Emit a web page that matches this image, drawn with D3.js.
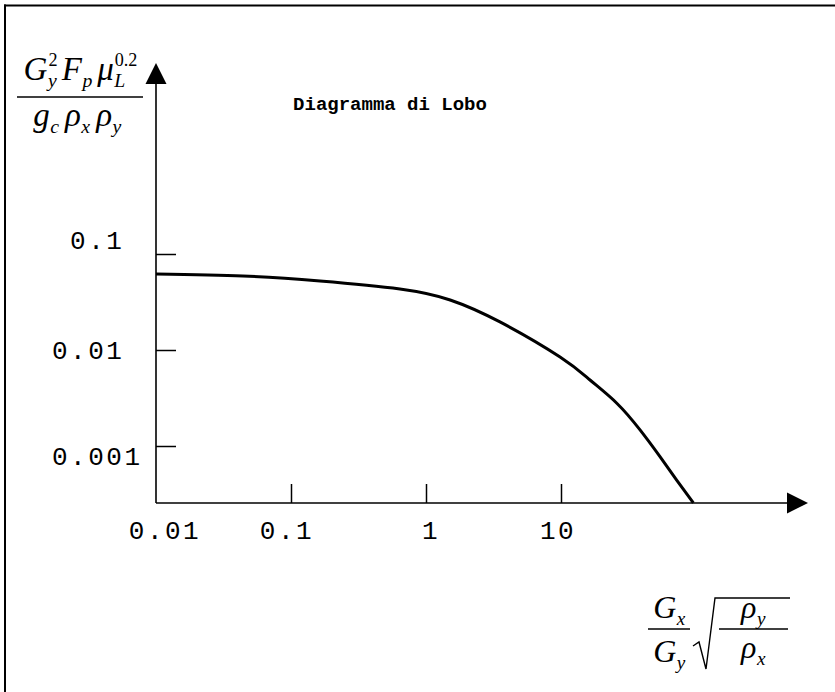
<!DOCTYPE html>
<html>
<head>
<meta charset="utf-8">
<script src="https://cdn.jsdelivr.net/npm/d3@7"></script>
<style>
  body { margin: 0; background: #fff; }
  svg { display: block; }
</style>
</head>
<body>
<svg id="chart" width="835" height="692"></svg>
<script>
// Lobo flooding correlation: flow parameter vs. flooding group (log–log)
const title = "Diagramma di Lobo";
const xTicks = [0.01, 0.1, 1, 10];
const xTickLabels = ["0.01", "0.1", "1", "10"];
const yTicks = [0.1, 0.01, 0.001];
const yTickLabels = [" 0.1", "0.01", "0.001"];
// points along the flooding curve
const flowParam  = [0.01, 0.044, 0.164, 0.641, 1.51, 3.53, 9.84, 16.4, 25.9, 38.5, 54.1, 71.9, 95.6];
const floodGroup = [0.0619, 0.059, 0.0523, 0.0432, 0.0332, 0.0196, 0.00845, 0.00487, 0.00279, 0.00147, 0.000774, 0.000442, 0.000255];

const svg = d3.select("#chart");
const W = 835, H = 692;

// frame (top and left edges)
svg.append("line").attr("x1", 4).attr("x2", W).attr("y1", 5.5).attr("y2", 5.5)
  .attr("stroke", "#000").attr("stroke-width", 2);
svg.append("line").attr("x1", 5).attr("x2", 5).attr("y1", 4.5).attr("y2", H)
  .attr("stroke", "#000").attr("stroke-width", 2);

const x = d3.scaleLog().domain([0.01, 10]).range([156, 561]);
const y = d3.scaleLog().domain([0.001, 0.1]).range([446, 254]);

const x0 = x(0.01);
const yBase = y(d3.min(floodGroup));   // horizontal axis sits where the curve ends
const xEnd = 808, yTop = 63;

// axes with arrow heads
svg.append("line").attr("x1", x0).attr("x2", x0).attr("y1", yBase).attr("y2", yTop + 18)
  .attr("stroke", "#000").attr("stroke-width", 1.6);
svg.append("path").attr("d", `M${x0},${yTop} L${x0 - 10.5},${yTop + 21} L${x0 + 10.5},${yTop + 21} Z`)
  .attr("fill", "#000");
svg.append("line").attr("x1", x0).attr("x2", xEnd - 18).attr("y1", yBase).attr("y2", yBase)
  .attr("stroke", "#000").attr("stroke-width", 1.6);
svg.append("path").attr("d", `M${xEnd},${yBase} L${xEnd - 21},${yBase - 10.5} L${xEnd - 21},${yBase + 10.5} Z`)
  .attr("fill", "#000");

// ticks (drawn inward)
const yAxis = d3.axisRight(y).tickValues(yTicks).tickSize(20).tickFormat("");
svg.append("g").attr("transform", `translate(${x0},0)`).call(yAxis)
  .call(g => g.select(".domain").remove())
  .call(g => g.selectAll("line").attr("stroke", "#000").attr("stroke-width", 1.5));
const xAxis = d3.axisTop(x).tickValues(xTicks.slice(1)).tickSize(19).tickFormat("");
svg.append("g").attr("transform", `translate(0,${yBase})`).call(xAxis)
  .call(g => g.select(".domain").remove())
  .call(g => g.selectAll("line").attr("stroke", "#000").attr("stroke-width", 1.5));

// tick labels
const mono = "'Liberation Mono', 'Courier New', monospace";
const yLabelShift = [-14, 0, 10];
svg.append("g").selectAll("text").data(yTicks).join("text")
  .attr("x", 52).attr("y", (d, i) => y(d) + yLabelShift[i])
  .attr("dy", "0.35em")
  .attr("font-family", mono).attr("font-size", 26).attr("letter-spacing", 2.5)
  .style("white-space", "pre")
  .text((d, i) => yTickLabels[i]);
const xLabelShift = [9, -4, 5, -3];
svg.append("g").selectAll("text").data(xTicks).join("text")
  .attr("x", (d, i) => x(d) + xLabelShift[i]).attr("y", yBase + 27)
  .attr("dy", "0.35em").attr("text-anchor", "middle")
  .attr("font-family", mono).attr("font-size", 26).attr("letter-spacing", 2.5)
  .text((d, i) => xTickLabels[i]);

// curve
svg.append("path")
  .datum(flowParam.map((v, i) => [v, floodGroup[i]]))
  .attr("d", d3.line().x(d => x(d[0])).y(d => y(d[1])).curve(d3.curveNatural))
  .attr("fill", "none").attr("stroke", "#000").attr("stroke-width", 3);

// title
svg.append("text").attr("x", 390).attr("y", 110).attr("text-anchor", "middle")
  .attr("font-family", mono).attr("font-size", 19).attr("font-weight", "bold")
  .text(title);

// math label helper: sequence of [base, sub, sup]
const serif = "'Liberation Serif', 'Times New Roman', serif";
function mathRow(g, cx, baseY, parts, size, gap = 0.06) {
  const row = g.append("g");
  let cur = 0;
  parts.forEach(([b, sub, sup]) => {
    const t = row.append("text").attr("x", cur).attr("y", baseY)
      .attr("font-family", serif).attr("font-size", size).attr("font-style", "italic").text(b);
    const w = t.node().getComputedTextLength();
    let extra = 0;
    if (sub) {
      const s = row.append("text").attr("x", cur + w + 0.5).attr("y", baseY + size * 0.22)
        .attr("font-family", serif).attr("font-size", size * 0.6).attr("font-style", "italic").text(sub);
      extra = Math.max(extra, s.node().getComputedTextLength());
    }
    if (sup) {
      const s = row.append("text").attr("x", cur + w + 1).attr("y", baseY - size * 0.42)
        .attr("font-family", serif).attr("font-size", size * 0.55).text(sup);
      extra = Math.max(extra, s.node().getComputedTextLength());
    }
    cur += w + extra + size * gap;
  });
  const total = cur - size * gap;
  row.attr("transform", `translate(${cx - total / 2},0)`);
  return total;
}

// vertical-axis quantity
const yl = svg.append("g");
mathRow(yl, 80, 80, [["G", "y", "2"], ["F", "p", ""], ["μ", "L", "0.2"]], 33, 0.16);
yl.append("line").attr("x1", 17).attr("x2", 143).attr("y1", 97).attr("y2", 97)
  .attr("stroke", "#000").attr("stroke-width", 1.5);
mathRow(yl, 77, 126, [["g", "c", ""], ["ρ", "x", ""], ["ρ", "y", ""]], 33, 0.2);

// horizontal-axis quantity
const xl = svg.append("g");
mathRow(xl, 669, 618, [["G", "x", ""]], 32);
xl.append("line").attr("x1", 648).attr("x2", 690).attr("y1", 629).attr("y2", 629)
  .attr("stroke", "#000").attr("stroke-width", 1.5);
mathRow(xl, 669, 662, [["G", "y", ""]], 32);
xl.append("path")
  .attr("d", "M693,646 L699,642 L706,669 L715,598 L790,598")
  .attr("fill", "none").attr("stroke", "#000").attr("stroke-width", 1.4);
mathRow(xl, 753, 618, [["ρ", "y", ""]], 32);
xl.append("line").attr("x1", 719).attr("x2", 788).attr("y1", 629).attr("y2", 629)
  .attr("stroke", "#000").attr("stroke-width", 1.5);
mathRow(xl, 753, 658, [["ρ", "x", ""]], 32);
</script>
</body>
</html>
